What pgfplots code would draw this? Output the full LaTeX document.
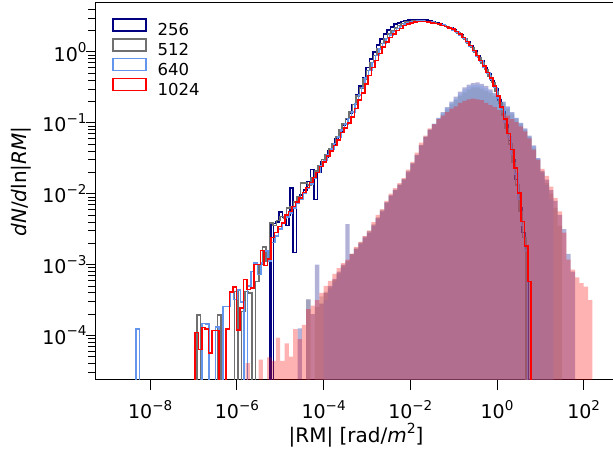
\documentclass[border=0pt]{standalone}
\usepackage{fontspec}
\setmainfont{DejaVu Sans}
\usepackage{pgfplots}
\pgfplotsset{compat=1.18}
\definecolor{cnavy}{RGB}{0,0,128}
\definecolor{cgrey}{RGB}{112,112,112}
\definecolor{cblue}{RGB}{100,149,237}
\definecolor{cred}{RGB}{255,0,0}
\newcommand{\tl}[1]{10\raisebox{0.45em}{\fontsize{13.5}{13.5}\selectfont #1}}
\begin{document}
\begin{tikzpicture}
\begin{axis}[name=ax, scale only axis, width=520.2pt, height=376.8pt,
  xmin=-9.25, xmax=2.75, ymin=-4.625, ymax=0.69,
  axis line style={line width=1pt},
  tick align=outside, tick pos=left,
  xtick={-8,-6,-4,-2,0,2},
  xticklabels={\tl{−8},\tl{−6},\tl{−4},\tl{−2},\tl{0},\tl{2}},
  ytick={-4,-3,-2,-1,0},
  yticklabels={\tl{−4},\tl{−3},\tl{−2},\tl{−1},\tl{0}},
  minor ytick={-4.523,-4.398,-4.301,-4.222,-4.155,-4.097,-4.046,
    -3.699,-3.523,-3.398,-3.301,-3.222,-3.155,-3.097,-3.046,
    -2.699,-2.523,-2.398,-2.301,-2.222,-2.155,-2.097,-2.046,
    -1.699,-1.523,-1.398,-1.301,-1.222,-1.155,-1.097,-1.046,
    -0.699,-0.523,-0.398,-0.301,-0.222,-0.155,-0.097,-0.046,
    0.301,0.477,0.602},
  major tick length=10pt, minor tick length=7.5pt,
  every tick/.append style={black, line width=0.8pt},
  tick label style={font=\fontsize{19}{19}\selectfont},
  xticklabel style={anchor=base, yshift=-29pt},
  yticklabel style={anchor=east, xshift=4pt},
  xlabel={|RM| [rad/\textit{m}\raisebox{0.45em}{\fontsize{14}{14}\selectfont 2}]},
  ylabel={\textit{dN}/\textit{d}ln|\textit{RM}|},
  label style={font=\fontsize{20}{20}\selectfont},
  xlabel style={at={(rel axis cs:0.5,0)}, anchor=base, yshift=-63pt},
  ylabel style={at={(rel axis cs:0,0.526)}, anchor=center, yshift=75pt},
  legend image code/.code={\draw[#1] (0pt,-0.5pt) rectangle (33pt,11.5pt);},
  legend style={at={(rel axis cs:0,1)}, anchor=north west, xshift=13pt, yshift=-13pt,
    draw=none, fill=none, font=\fontsize{16.5}{16.5}\selectfont,
    nodes={inner ysep=3.25pt, inner xsep=0pt},
    row sep=-2.5pt, column sep=11pt},
  legend cell align=left,
]
\addlegendimage{cnavy, line width=1.5pt}\addlegendentry{256}
\addlegendimage{cgrey, line width=1.5pt}\addlegendentry{512}
\addlegendimage{cblue, line width=1.5pt}\addlegendentry{640}
\addlegendimage{cred, line width=1.5pt}\addlegendentry{1024}

% 256 step
\addplot[forget plot, const plot, cnavy, line width=1.5pt] coordinates {
(-5.24,-20)(-5.24,-2.41)(-5.20,-20)(-5.15,-2.42)(-5.11,-2.40)(-5.03,-2.26)(-4.95,-2.33)(-4.87,-2.45)(-4.80,-2.30)(-4.77,-1.92)(-4.70,-2.83)(-4.62,-2.05)(-4.54,-2.02)(-4.46,-1.95)(-4.38,-1.83)(-4.30,-1.66)(-4.22,-2.08)(-4.14,-1.70)(-4.06,-1.55)(-3.98,-1.48)(-3.90,-1.40)(-3.82,-1.30)(-3.74,-1.22)(-3.66,-1.12)(-3.58,-1.03)(-3.50,-0.95)(-3.42,-0.86)(-3.34,-0.74)(-3.26,-0.60)(-3.18,-0.48)(-3.10,-0.36)(-3.02,-0.22)(-2.94,-0.10)(-2.86,0.00)(-2.78,0.10)(-2.70,0.18)(-2.62,0.25)(-2.54,0.31)(-2.46,0.35)(-2.38,0.39)(-2.30,0.41)(-2.22,0.43)(-2.14,0.44)(-2.06,0.45)(-1.98,0.45)(-1.90,0.46)(-1.82,0.46)(-1.74,0.45)(-1.66,0.45)(-1.58,0.44)(-1.50,0.42)(-1.42,0.41)(-1.34,0.39)(-1.26,0.37)(-1.18,0.36)(-1.10,0.34)(-1.02,0.31)(-0.94,0.28)(-0.86,0.24)(-0.78,0.19)(-0.70,0.14)(-0.62,0.08)(-0.54,0.02)(-0.46,-0.06)(-0.38,-0.13)(-0.30,-0.22)(-0.22,-0.31)(-0.14,-0.40)(-0.06,-0.52)(0.02,-0.68)(0.10,-0.84)(0.18,-1.03)(0.26,-1.25)(0.34,-1.52)(0.42,-1.80)(0.50,-2.20)(0.58,-2.55)(0.66,-2.88)(0.72,-2.88)(0.72,-20)};
% 256 filled
\addplot[forget plot, const plot, draw=none, fill=cnavy, fill opacity=0.3] coordinates {
(-4.6,-20)(-4.6,-3.90)(-4.5,-20)(-4.4,-3.49)(-4.3,-3.70)(-4.2,-3.00)(-4.1,-3.55)(-4.0,-3.40)(-3.9,-3.30)(-3.8,-3.20)(-3.7,-3.10)(-3.6,-3.00)(-3.5,-2.43)(-3.4,-2.85)(-3.3,-2.78)(-3.2,-2.70)(-3.1,-2.62)(-3.0,-2.55)(-2.9,-2.45)(-2.8,-2.35)(-2.7,-2.25)(-2.6,-2.13)(-2.5,-2.03)(-2.4,-1.95)(-2.3,-1.88)(-2.2,-1.80)(-2.1,-1.70)(-2.0,-1.58)(-1.9,-1.46)(-1.8,-1.32)(-1.7,-1.20)(-1.6,-1.10)(-1.5,-1.02)(-1.4,-0.93)(-1.3,-0.85)(-1.2,-0.78)(-1.1,-0.70)(-1.0,-0.63)(-0.9,-0.56)(-0.8,-0.50)(-0.7,-0.46)(-0.6,-0.44)(-0.5,-0.43)(-0.4,-0.45)(-0.3,-0.48)(-0.2,-0.53)(-0.1,-0.58)(0.0,-0.64)(0.1,-0.70)(0.2,-0.77)(0.3,-0.85)(0.4,-0.93)(0.5,-1.00)(0.6,-1.08)(0.7,-1.18)(0.8,-1.32)(0.9,-1.50)(1.0,-1.68)(1.1,-1.80)(1.2,-1.95)(1.3,-2.10)(1.4,-2.30)(1.5,-2.50)(1.6,-2.85)(1.7,-3.10)(1.8,-3.10)(1.8,-20)};

% 512 step
\addplot[forget plot, const plot, cgrey, line width=1.5pt] coordinates {
(-6.92,-20)(-6.92,-3.71)(-6.84,-20)(-6.45,-3.71)(-6.37,-20)(-6.05,-3.38)(-5.97,-20)(-5.89,-3.66)(-5.81,-3.38)(-5.73,-3.40)(-5.65,-20)(-5.57,-3.24)(-5.49,-3.00)(-5.41,-2.75)(-5.33,-2.95)(-5.25,-2.41)(-5.17,-2.45)(-5.09,-2.38)(-5.01,-2.32)(-4.93,-2.34)(-4.85,-2.20)(-4.77,-2.18)(-4.69,-2.12)(-4.61,-2.05)(-4.53,-1.85)(-4.45,-1.85)(-4.37,-1.88)(-4.29,-1.78)(-4.21,-1.68)(-4.13,-1.60)(-4.05,-1.52)(-3.97,-1.45)(-3.89,-1.37)(-3.81,-1.29)(-3.73,-1.20)(-3.65,-1.10)(-3.57,-1.02)(-3.49,-0.94)(-3.41,-0.85)(-3.33,-0.74)(-3.25,-0.62)(-3.17,-0.51)(-3.09,-0.38)(-3.01,-0.26)(-2.93,-0.15)(-2.85,-0.05)(-2.77,0.04)(-2.69,0.12)(-2.61,0.19)(-2.53,0.25)(-2.45,0.30)(-2.37,0.34)(-2.29,0.37)(-2.21,0.40)(-2.13,0.42)(-2.05,0.43)(-1.97,0.44)(-1.89,0.44)(-1.81,0.44)(-1.73,0.44)(-1.65,0.43)(-1.57,0.42)(-1.49,0.41)(-1.41,0.40)(-1.33,0.38)(-1.25,0.37)(-1.17,0.35)(-1.09,0.33)(-1.01,0.30)(-0.93,0.27)(-0.85,0.23)(-0.77,0.18)(-0.69,0.12)(-0.61,0.06)(-0.53,-0.01)(-0.45,-0.08)(-0.37,-0.16)(-0.29,-0.25)(-0.21,-0.34)(-0.13,-0.43)(-0.05,-0.56)(0.03,-0.72)(0.11,-0.89)(0.19,-1.08)(0.27,-1.30)(0.35,-1.56)(0.43,-1.88)(0.51,-2.25)(0.59,-2.62)(0.67,-2.62)(0.67,-20)};
% 512 filled
\addplot[forget plot, const plot, draw=none, fill=gray, fill opacity=0.3] coordinates {
(-4.4,-20)(-4.4,-3.49)(-4.3,-20)(-4.2,-3.60)(-4.1,-3.45)(-4.0,-3.38)(-3.9,-3.32)(-3.8,-3.22)(-3.7,-3.12)(-3.6,-3.02)(-3.5,-2.95)(-3.4,-2.85)(-3.3,-2.76)(-3.2,-2.68)(-3.1,-2.60)(-3.0,-2.52)(-2.9,-2.43)(-2.8,-2.33)(-2.7,-2.22)(-2.6,-2.12)(-2.5,-2.02)(-2.4,-1.95)(-2.3,-1.87)(-2.2,-1.79)(-2.1,-1.68)(-2.0,-1.57)(-1.9,-1.45)(-1.8,-1.31)(-1.7,-1.20)(-1.6,-1.10)(-1.5,-1.03)(-1.4,-0.95)(-1.3,-0.88)(-1.2,-0.81)(-1.1,-0.74)(-1.0,-0.68)(-0.9,-0.62)(-0.8,-0.57)(-0.7,-0.53)(-0.6,-0.50)(-0.5,-0.50)(-0.4,-0.52)(-0.3,-0.55)(-0.2,-0.58)(-0.1,-0.62)(0.0,-0.67)(0.1,-0.73)(0.2,-0.80)(0.3,-0.88)(0.4,-0.95)(0.5,-1.02)(0.6,-1.10)(0.7,-1.20)(0.8,-1.35)(0.9,-1.52)(1.0,-1.70)(1.1,-1.85)(1.2,-2.00)(1.3,-2.20)(1.4,-2.45)(1.5,-2.45)(1.5,-20)};

% 640 step
\addplot[forget plot, const plot, cblue, line width=1.5pt] coordinates {
(-8.33,-20)(-8.33,-3.91)(-8.25,-20)(-6.80,-3.83)(-6.72,-3.84)(-6.64,-20)(-6.49,-3.88)(-6.41,-20)(-6.32,-3.59)(-6.24,-3.59)(-6.16,-3.39)(-6.08,-3.49)(-6.00,-3.36)(-5.92,-3.53)(-5.84,-20)(-5.76,-3.30)(-5.68,-3.10)(-5.60,-2.98)(-5.52,-3.14)(-5.44,-2.98)(-5.36,-2.81)(-5.28,-2.95)(-5.20,-2.69)(-5.12,-2.60)(-5.04,-2.50)(-4.96,-2.42)(-4.88,-2.33)(-4.80,-2.27)(-4.72,-2.20)(-4.64,-2.14)(-4.56,-2.08)(-4.48,-2.00)(-4.40,-1.93)(-4.32,-1.86)(-4.24,-1.78)(-4.16,-1.70)(-4.08,-1.61)(-4.00,-1.53)(-3.92,-1.45)(-3.84,-1.37)(-3.76,-1.29)(-3.68,-1.20)(-3.60,-1.10)(-3.52,-1.02)(-3.44,-0.94)(-3.36,-0.85)(-3.28,-0.73)(-3.20,-0.61)(-3.12,-0.50)(-3.04,-0.37)(-2.96,-0.26)(-2.88,-0.15)(-2.80,-0.05)(-2.72,0.04)(-2.64,0.12)(-2.56,0.19)(-2.48,0.24)(-2.40,0.29)(-2.32,0.33)(-2.24,0.36)(-2.16,0.39)(-2.08,0.41)(-2.00,0.42)(-1.92,0.43)(-1.84,0.44)(-1.76,0.44)(-1.68,0.43)(-1.60,0.43)(-1.52,0.42)(-1.44,0.40)(-1.36,0.39)(-1.28,0.38)(-1.20,0.36)(-1.12,0.34)(-1.04,0.31)(-0.96,0.28)(-0.88,0.24)(-0.80,0.19)(-0.72,0.14)(-0.64,0.08)(-0.56,0.01)(-0.48,-0.06)(-0.40,-0.13)(-0.32,-0.21)(-0.24,-0.30)(-0.16,-0.39)(-0.08,-0.50)(0.00,-0.65)(0.08,-0.81)(0.16,-0.99)(0.24,-1.20)(0.32,-1.45)(0.40,-1.72)(0.48,-2.08)(0.56,-2.45)(0.64,-2.80)(0.70,-2.80)(0.70,-20)};
% 640 filled
\addplot[forget plot, const plot, draw=none, fill=cblue, fill opacity=0.3] coordinates {
(-4.0,-20)(-4.0,-3.50)(-3.9,-3.35)(-3.8,-3.25)(-3.7,-3.14)(-3.6,-3.04)(-3.5,-2.96)(-3.4,-2.87)(-3.3,-2.78)(-3.2,-2.70)(-3.1,-2.61)(-3.0,-2.53)(-2.9,-2.44)(-2.8,-2.34)(-2.7,-2.24)(-2.6,-2.12)(-2.5,-2.02)(-2.4,-1.94)(-2.3,-1.87)(-2.2,-1.79)(-2.1,-1.68)(-2.0,-1.57)(-1.9,-1.45)(-1.8,-1.31)(-1.7,-1.19)(-1.6,-1.09)(-1.5,-1.01)(-1.4,-0.93)(-1.3,-0.86)(-1.2,-0.79)(-1.1,-0.72)(-1.0,-0.66)(-0.9,-0.59)(-0.8,-0.53)(-0.7,-0.49)(-0.6,-0.47)(-0.5,-0.46)(-0.4,-0.48)(-0.3,-0.51)(-0.2,-0.55)(-0.1,-0.60)(0.0,-0.65)(0.1,-0.71)(0.2,-0.78)(0.3,-0.86)(0.4,-0.93)(0.5,-1.00)(0.6,-1.09)(0.7,-1.19)(0.8,-1.33)(0.9,-1.50)(1.0,-1.70)(1.1,-1.88)(1.2,-2.08)(1.3,-2.08)(1.3,-20)};

% 1024 step
\addplot[forget plot, const plot, cred, line width=1.5pt] coordinates {
(-6.97,-20)(-6.97,-3.955)(-6.89,-4.20)(-6.81,-3.89)(-6.73,-3.91)(-6.65,-4.25)(-6.57,-3.93)(-6.49,-3.93)(-6.41,-20)(-6.33,-20)(-6.25,-3.91)(-6.17,-3.39)(-6.09,-3.315)(-6.01,-3.92)(-5.93,-3.61)(-5.85,-3.21)(-5.77,-3.35)(-5.69,-3.33)(-5.61,-3.00)(-5.53,-3.00)(-5.45,-2.80)(-5.37,-3.01)(-5.29,-2.92)(-5.21,-2.62)(-5.13,-2.55)(-5.05,-2.46)(-4.97,-2.41)(-4.89,-2.30)(-4.81,-2.25)(-4.73,-2.18)(-4.65,-2.12)(-4.57,-2.06)(-4.49,-1.98)(-4.41,-1.91)(-4.33,-1.84)(-4.25,-1.77)(-4.17,-1.70)(-4.09,-1.62)(-4.01,-1.55)(-3.93,-1.47)(-3.85,-1.40)(-3.77,-1.32)(-3.69,-1.24)(-3.61,-1.14)(-3.53,-1.07)(-3.45,-1.00)(-3.37,-0.92)(-3.29,-0.80)(-3.21,-0.68)(-3.13,-0.58)(-3.05,-0.45)(-2.97,-0.33)(-2.89,-0.22)(-2.81,-0.12)(-2.73,-0.02)(-2.65,0.07)(-2.57,0.14)(-2.49,0.20)(-2.41,0.25)(-2.33,0.30)(-2.25,0.33)(-2.17,0.37)(-2.09,0.39)(-2.01,0.41)(-1.93,0.42)(-1.85,0.43)(-1.77,0.43)(-1.69,0.43)(-1.61,0.42)(-1.53,0.41)(-1.45,0.40)(-1.37,0.39)(-1.29,0.37)(-1.21,0.36)(-1.13,0.34)(-1.05,0.32)(-0.97,0.29)(-0.89,0.25)(-0.81,0.20)(-0.73,0.15)(-0.65,0.09)(-0.57,0.02)(-0.49,-0.05)(-0.41,-0.12)(-0.33,-0.20)(-0.25,-0.29)(-0.17,-0.37)(-0.09,-0.48)(-0.01,-0.62)(0.07,-0.78)(0.15,-0.95)(0.23,-1.15)(0.31,-1.38)(0.39,-1.64)(0.47,-1.99)(0.55,-2.39)(0.63,-2.74)(0.71,-3.24)(0.79,-3.24)(0.79,-20)};
% 1024 filled
\addplot[forget plot, const plot, draw=none, fill=cred, fill opacity=0.3] coordinates {
(-5.8,-20)(-5.8,-4.39)(-5.7,-20)(-5.5,-4.34)(-5.4,-20)(-5.3,-4.31)(-5.2,-4.36)(-5.1,-4.03)(-5.0,-4.36)(-4.9,-4.11)(-4.8,-4.30)(-4.7,-3.91)(-4.6,-4.05)(-4.5,-3.85)(-4.4,-3.63)(-4.3,-3.58)(-4.2,-3.50)(-4.1,-3.40)(-4.0,-3.30)(-3.9,-3.23)(-3.8,-3.13)(-3.7,-3.05)(-3.6,-2.98)(-3.5,-2.93)(-3.4,-2.85)(-3.3,-2.75)(-3.2,-2.68)(-3.1,-2.60)(-3.0,-2.52)(-2.9,-2.40)(-2.8,-2.30)(-2.7,-2.22)(-2.6,-2.10)(-2.5,-2.00)(-2.4,-1.92)(-2.3,-1.85)(-2.2,-1.78)(-2.1,-1.66)(-2.0,-1.55)(-1.9,-1.42)(-1.8,-1.28)(-1.7,-1.18)(-1.6,-1.08)(-1.5,-1.02)(-1.4,-0.95)(-1.3,-0.90)(-1.2,-0.85)(-1.1,-0.80)(-1.0,-0.77)(-0.9,-0.72)(-0.8,-0.69)(-0.7,-0.67)(-0.6,-0.66)(-0.5,-0.67)(-0.4,-0.68)(-0.3,-0.72)(-0.2,-0.75)(-0.1,-0.78)(0.0,-0.82)(0.1,-0.86)(0.2,-0.90)(0.3,-0.95)(0.4,-0.99)(0.5,-1.05)(0.6,-1.12)(0.7,-1.22)(0.8,-1.38)(0.9,-1.52)(1.0,-1.65)(1.1,-1.75)(1.2,-1.90)(1.3,-2.06)(1.4,-2.25)(1.5,-2.55)(1.6,-2.93)(1.7,-3.07)(1.8,-3.18)(1.9,-3.26)(2.0,-3.31)(2.1,-3.50)(2.2,-3.50)(2.2,-20)};
\end{axis}
\pgfresetboundingbox
\path[use as bounding box] ([shift={(-96pt,-69pt)}]ax.south west) rectangle ([shift={(517pt,3pt)}]ax.north west);
\end{tikzpicture}
\end{document}
